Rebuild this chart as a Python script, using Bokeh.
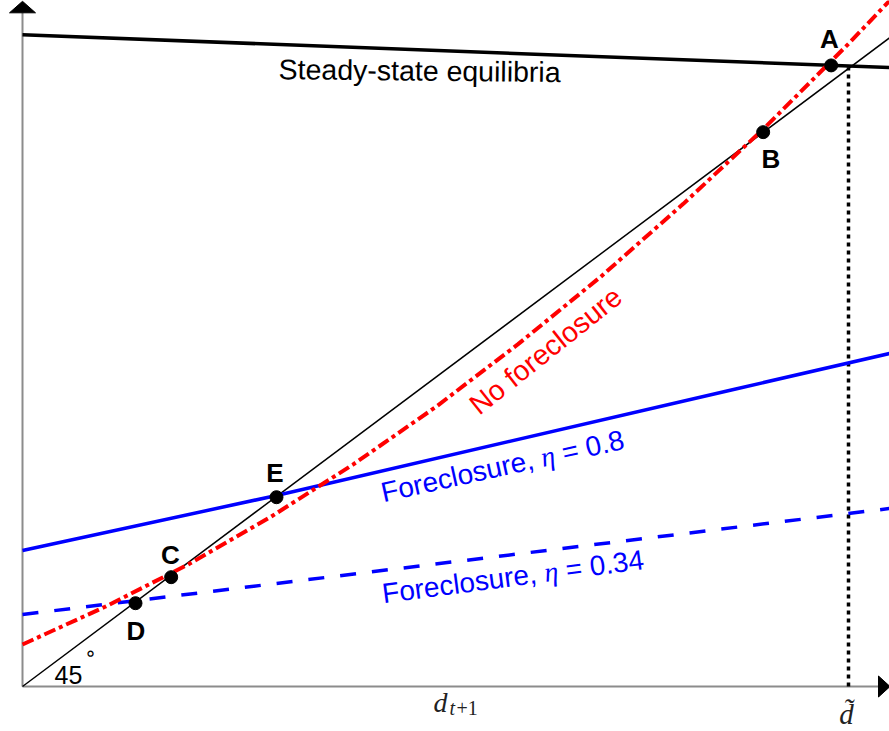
from bokeh.plotting import figure
from bokeh.models import Range1d
from bokeh.embed import file_html
from bokeh.resources import INLINE
from bokeh.core.properties import value
import math

# ---------------- data (x = d, 45-degree line is y = x) ----------------
line45_x = [0.0, 1.0496]
line45_y = [0.0, 1.0496]

steady_x = [0.0, 1.0496]
steady_y = [1.0545, 1.0016]

nofc_x = [0.0, 0.1, 0.2, 0.3, 0.4, 0.5, 0.6, 0.7, 0.8, 0.9, 1.0, 1.05]
nofc_y = [0.068, 0.129, 0.197, 0.274, 0.359, 0.452, 0.554, 0.663, 0.781, 0.906, 1.040, 1.110]

fc08_x = [0.0, 0.3075, 0.8608, 1.0496]
fc08_y = [0.2201, 0.3091, 0.4806, 0.5388]

fc034_x = [0.0, 1.0496]
fc034_y = [0.1165, 0.2880]

pt_names = ["A", "B", "C", "D", "E"]
pt_x = [0.979, 0.8967, 0.180, 0.1368, 0.3075]
pt_y = [1.005, 0.8970, 0.1769, 0.1348, 0.3063]

d_tilde = 1.0
d_tilde_top = 1.002

# ---------------- layout ----------------
W, H = 889, 731
SX, SY = 826.0, 618.0   # px per data unit
X0, Y0 = 22.0, 686.0    # px position of the origin


def dx(px):
    return (px - X0) / SX


def dy(py):
    return (Y0 - py) / SY


p = figure(width=W, height=H,
           x_range=Range1d(dx(0), dx(W)), y_range=Range1d(dy(H), dy(0)),
           output_backend="svg", toolbar_location=None,
           x_axis_location=None, y_axis_location=None,
           min_border=0, min_border_left=0, min_border_right=0,
           min_border_top=0, min_border_bottom=0,
           outline_line_color=None, background_fill_color="white",
           border_fill_color="white")
p.grid.visible = False

# axes with arrow heads
GRAY = "#8c8c8c"
p.line([0, 0], [0, dy(12)], line_color=GRAY, line_width=2)
p.line([0, dx(878)], [0, 0], line_color=GRAY, line_width=2)
p.patch([dx(X0 - 13), dx(X0 + 13), 0], [dy(12.3), dy(12.3), dy(0.8)], color="black")
p.patch([dx(878), dx(878), dx(889.5)], [dy(Y0 - 10.5), dy(Y0 + 10.5), 0], color="black")

# curves
p.line(line45_x, line45_y, line_color="black", line_width=1.5)
p.line(steady_x, steady_y, line_color="black", line_width=3.5)
p.line([d_tilde, d_tilde], [0, d_tilde_top], line_color="black", line_width=3.5, line_dash="4 4")
p.line(fc08_x, fc08_y, line_color="#0000ff", line_width=3.5)
p.line(fc034_x, fc034_y, line_color="#0000ff", line_width=3.5, line_dash="16 16")
p.line(nofc_x, nofc_y, line_color="#ff0000", line_width=4, line_dash="12 4 4 4")

p.scatter(pt_x, pt_y, size=13, color="black")

SANS = value("Liberation Sans")
SERIF = value("Liberation Serif")
MID = 0.3465  # em offset of the 'middle' anchor above the baseline


def put(px, py, txt, font, size, deg=0.0, style="normal", color="black", align="left"):
    """Place text whose baseline-left (or baseline-centre) is at pixel (px, py)."""
    th = math.radians(deg)
    ax = px - MID * size * math.sin(th)
    ay = py - MID * size * math.cos(th)
    p.text(x=[dx(ax)], y=[dy(ay)], text=[txt], text_font=font, text_font_style=style,
           text_font_size=f"{size}px", text_align=align, text_baseline="middle",
           angle=th, text_color=color)


# point labels
lab_px = [(829, 37), (770.5, 156.5), (170, 553), (135.5, 629), (274.5, 470.5)]
p.text(x=[dx(a) for a, b in lab_px], y=[dy(b + 1.5) for a, b in lab_px], text=pt_names,
       text_font=SANS, text_font_style="bold", text_font_size="26px",
       text_align="center", text_baseline="middle", text_color="black")

# steady-state label
put(419, 80, "Steady-state equilibria", SANS, 28.5, deg=-0.6, align="center")

# No foreclosure label
p.text(x=[dx(545)], y=[dy(350)], text=["No foreclosure"], text_font=SANS,
       text_font_size="28.5px", text_align="center", text_baseline="middle",
       angle=math.radians(38.5), text_color="#ff0000")


def mixed_label(ox, oy, deg, pieces, color):
    th = math.radians(deg)
    off = 0.0
    for txt, font, style, width in pieces:
        put(ox + off * math.cos(th), oy - off * math.sin(th), txt, font, 28,
            deg=deg, style=style, color=color)
        off += width


fs = 28
mixed_label(383, 502, 12.5, [("Foreclosure,", SANS, "normal", 5.835 * fs),
                             ("\u03b7", SERIF, "italic", (0.5 + 0.278) * fs),
                             ("= 0.8", SANS, "normal", 0)], "#0000ff")
mixed_label(383, 603, 7.5, [("Foreclosure,", SANS, "normal", 5.835 * fs),
                            ("\u03b7", SERIF, "italic", (0.5 + 0.278) * fs),
                            ("= 0.34", SANS, "normal", 0)], "#0000ff")

# 45 degree label
p.text(x=[dx(68)], y=[dy(674)], text=["45"], text_font=SANS, text_font_size="25px",
       text_align="center", text_baseline="middle", text_color="black")
p.text(x=[dx(90)], y=[dy(652)], text=["\u2218"], text_font=value("DejaVu Sans"),
       text_font_size="20px", text_align="center", text_baseline="middle", text_color="black")

# axis labels d_{t+1} and d-tilde
put(433, 712, "d", SERIF, 28, style="italic", color="#222222")
put(449, 714, "t", SERIF, 20, style="italic", color="#222222")
put(456, 714, "+1", SERIF, 20, color="#222222")
put(846, 724, "d\u0303", SERIF, 29, style="italic", color="#222222", align="center")

open("out.html", "w").write(file_html(p, INLINE))
